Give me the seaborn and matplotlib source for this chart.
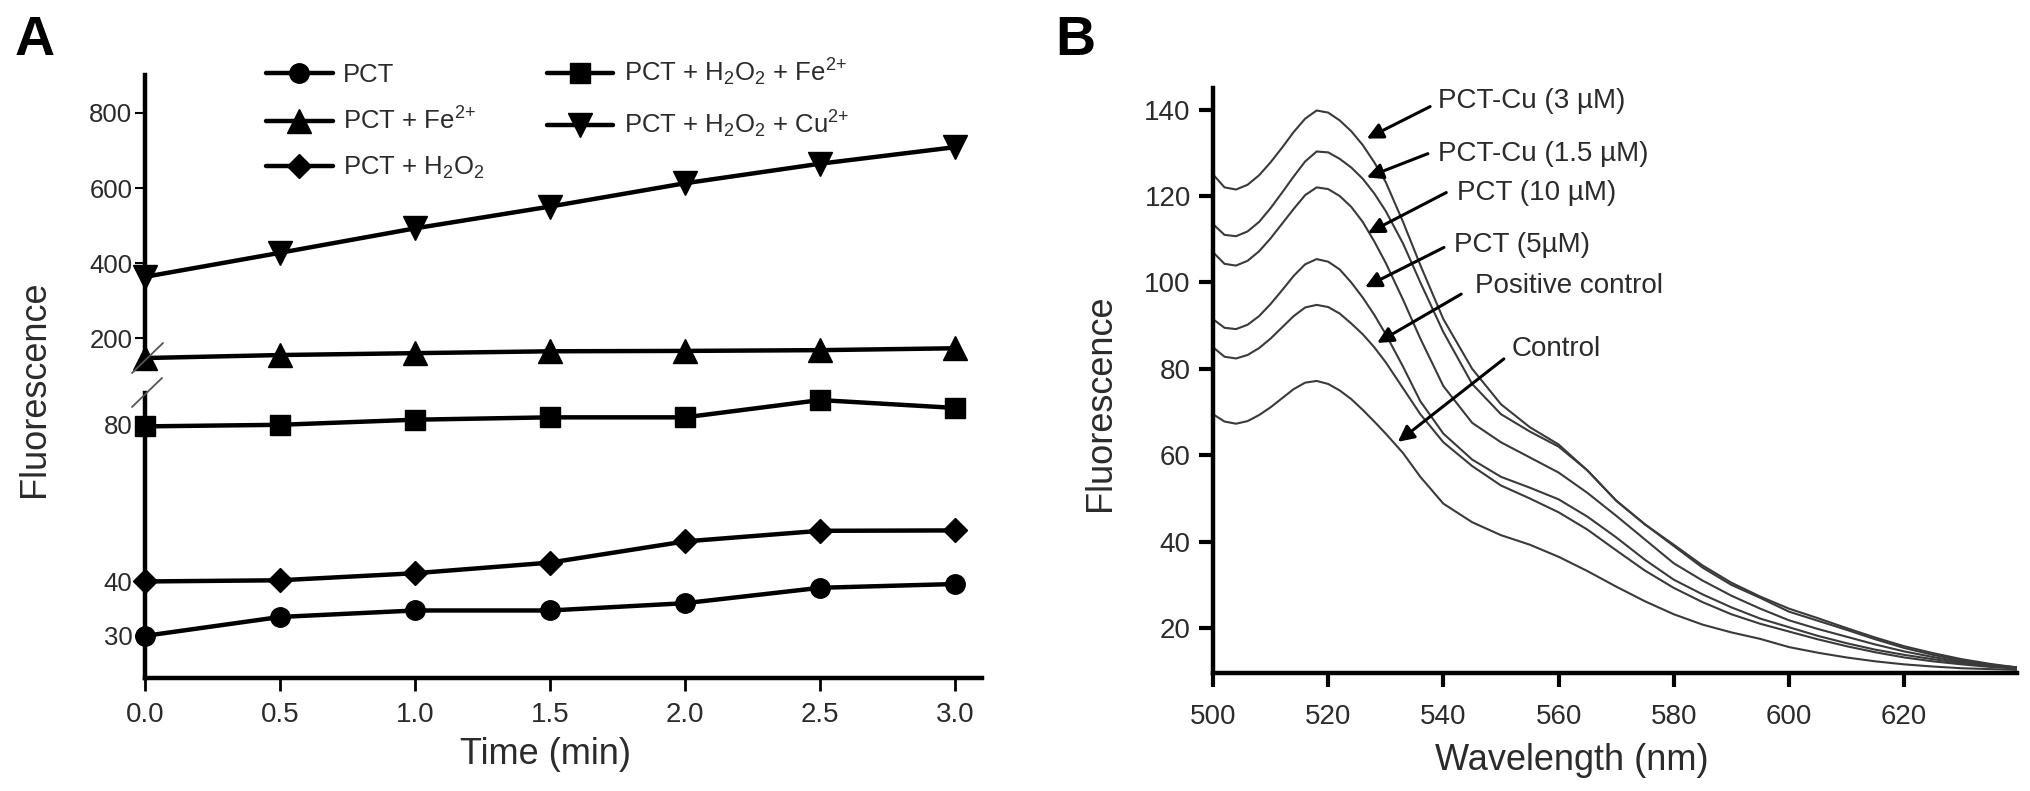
import numpy as np
import matplotlib
matplotlib.use("Agg")
import matplotlib.pyplot as plt
import seaborn as sns
from matplotlib.lines import Line2D

# ---- Panel A data (fluorescence vs time) ----
time_min = [0.0, 0.5, 1.0, 1.5, 2.0, 2.5, 3.0]
pct = [30.0, 33.5, 34.7, 34.7, 36.05, 38.9, 39.6]
pct_h2o2 = [40.1, 40.4, 42.2, 44.9, 50.3, 53.0, 53.1]
pct_h2o2_fe = [79.6, 80.0, 81.3, 81.9, 81.9, 86.3, 84.3]
pct_fe = [148, 156, 161, 166, 167, 169, 174]
pct_h2o2_cu = [364, 428, 493, 551, 613, 665, 709]

labels_a = ['PCT', 'PCT + Fe$^{2{+}}$', 'PCT + H$_2$O$_2$',
            'PCT + H$_2$O$_2$ + Fe$^{2{+}}$', 'PCT + H$_2$O$_2$ + Cu$^{2{+}}$']

# ---- Panel B data (emission spectra) ----
wavelength = [500, 502, 504, 506, 508, 510, 512, 514, 516, 518, 520, 522, 524, 526,
              528, 530, 533, 536, 540, 545, 550, 555, 560, 565, 570, 575, 580, 585,
              590, 595, 600, 605, 610, 615, 620, 625, 630, 635, 640]
cu_3 = [125.0, 122.0, 121.5, 122.6, 124.8, 127.8, 131.2, 134.8, 137.9, 139.8, 139.3,
        137.5, 135.0, 131.8, 127.8, 123.2, 114.0, 104.0, 91.5, 80.0, 71.8, 66.5, 62.5,
        56.5, 49.5, 44.0, 39.3, 34.5, 30.5, 27.3, 24.5, 22.3, 20.0, 17.8, 15.8, 14.2,
        12.8, 11.7, 10.8]
cu_15 = [113.5, 111.0, 110.7, 111.8, 114.0, 117.2, 120.8, 124.5, 128.0, 130.3, 130.1,
         128.6, 126.6, 124.0, 120.6, 116.5, 109.0, 100.0, 88.5, 76.5, 69.5, 65.5, 62.0,
         56.5, 49.5, 44.0, 39.0, 34.0, 30.0, 27.0, 23.8, 21.7, 19.6, 17.4, 15.4, 13.8,
         12.5, 11.5, 10.8]
pct_10 = [107.0, 104.3, 103.9, 105.0, 107.2, 110.2, 113.6, 117.0, 120.2, 122.0, 121.6,
          120.0, 117.5, 114.0, 109.5, 104.5, 96.0, 87.0, 76.0, 67.5, 63.0, 59.5, 56.0,
          51.3, 46.0, 40.5, 35.0, 31.0, 27.5, 24.5, 21.8, 19.8, 18.0, 16.2, 14.6, 13.3,
          12.2, 11.4, 10.9]
pct_5 = [91.5, 89.5, 89.2, 90.2, 92.2, 95.0, 98.2, 101.5, 104.2, 105.4, 104.8, 103.0,
         100.0, 96.5, 92.5, 88.0, 80.5, 72.5, 65.0, 59.0, 55.0, 52.5, 49.8, 45.8, 41.0,
         35.8, 31.2, 27.8, 24.8, 22.2, 20.2, 18.2, 16.5, 15.0, 13.8, 12.8, 11.9, 11.2,
         10.7]
positive = [85.0, 82.8, 82.4, 83.2, 84.8, 87.0, 89.6, 92.2, 94.2, 94.8, 94.3, 92.8,
            90.5, 88.0, 85.0, 81.5, 75.5, 69.5, 63.0, 57.5, 53.0, 50.0, 46.8, 42.8,
            38.0, 33.3, 29.3, 26.0, 23.2, 21.0, 19.2, 17.4, 15.8, 14.4, 13.2, 12.3,
            11.6, 11.0, 10.6]
control = [69.5, 67.8, 67.3, 67.9, 69.3, 71.1, 73.2, 75.3, 76.8, 77.2, 76.5, 75.0,
           73.0, 70.5, 67.8, 65.0, 60.5, 55.0, 48.8, 44.5, 41.5, 39.3, 36.5, 33.2,
           29.6, 26.2, 23.2, 20.8, 19.0, 17.5, 15.6, 14.3, 13.2, 12.3, 11.6, 11.1,
           10.7, 10.5, 10.3]

# label, arrow tip (nm, F), arrow tail (nm, F), text anchor (nm, F)
annotations_b = [
    ('PCT-Cu (3 µM)', (526.7, 133.3), (537.7, 140.7), (539.1, 142.1)),
    ('PCT-Cu (1.5 µM)', (526.7, 124.3), (537.3, 129.8), (539.1, 129.8)),
    ('PCT (10 µM)', (526.9, 111.4), (540.5, 120.8), (542.4, 120.6)),
    ('PCT (5µM)', (526.4, 98.9), (540.1, 108.1), (541.8, 108.6)),
    ('Positive control', (528.5, 86.0), (543.1, 97.3), (545.5, 99.1)),
    ('Control', (532.1, 63.1), (550.5, 82.3), (551.9, 84.6)),
]

sns.set_style('ticks')
plt.rcParams['font.family'] = ['Liberation Sans', 'DejaVu Sans']
plt.rcParams['mathtext.default'] = 'regular'
TXT = '#2b2b2b'

W, H = 2031, 791
fig = plt.figure(figsize=(W / 100, H / 100), dpi=100)


def box(l, t, r, b):
    return [l / W, 1 - b / H, (r - l) / W, (b - t) / H]


ax_hi = fig.add_axes(box(145, 75, 982, 365))
ax_lo = fig.add_axes(box(145, 393, 982, 678))
ax_b = fig.add_axes(box(1213, 88, 2017, 673))

# --- Panel A ---
series_a = [
    (pct, 'o', 14, ax_lo),
    (pct_fe, '^', 17, ax_hi),
    (pct_h2o2, 'D', 12.5, ax_lo),
    (pct_h2o2_fe, 's', 15, ax_lo),
    (pct_h2o2_cu, 'v', 17, ax_hi),
]
handles = []
for vals, mk, ms, ax in series_a:
    sns.lineplot(x=time_min, y=vals, ax=ax, color='black', lw=3.2, marker=mk,
                 markersize=ms, markeredgecolor='black', markeredgewidth=1,
                 clip_on=False, zorder=4)
    handles.append(Line2D([], [], color='black', lw=3.2, marker=mk, markersize=ms,
                          markeredgecolor='black'))


# lower segment of the broken axis is not linear in the original figure
def lo_fwd(v):
    v = np.asarray(v, dtype=float)
    return np.where(v < 40, (v - 40) * 5.4, (v - 40) * 3.925)


def lo_inv(p):
    p = np.asarray(p, dtype=float)
    return np.where(p < 0, p / 5.4 + 40, p / 3.925 + 40)


ax_lo.set_yscale('function', functions=(lo_fwd, lo_inv))
ax_lo.set_ylim(22.2, 88.1)
ax_lo.set_yticks([30, 40, 80])
ax_lo.set_yticklabels(['30', '40', '80'])
ax_hi.set_ylim(129.5, 901)
ax_hi.set_yticks([200, 400, 600, 800])

for ax in (ax_hi, ax_lo):
    ax.set_xlim(0, 3.1)
    ax.set_xlabel('')
    ax.set_ylabel('')
    for s in ('top', 'right'):
        ax.spines[s].set_visible(False)
    ax.spines['left'].set_linewidth(3.2)
    ax.spines['left'].set_color('black')
    ax.tick_params(axis='y', direction='out', length=7, width=1.5, pad=2,
                   labelsize=18.5, labelcolor=TXT, color='black')
ax_hi.spines['bottom'].set_visible(False)
ax_hi.set_xticks([])
ax_lo.spines['bottom'].set_linewidth(3.2)
ax_lo.spines['bottom'].set_color('black')
ax_lo.set_xticks(time_min)
ax_lo.set_xticklabels([f'{t:.1f}' for t in time_min])
ax_lo.tick_params(axis='x', direction='out', length=9, width=2, pad=8,
                  labelsize=20, labelcolor=TXT, color='black')

# break marks
for (x1, y1, x2, y2) in [(132, 373, 163, 343), (132, 407, 162, 378)]:
    fig.add_artist(Line2D([x1 / W, x2 / W], [1 - y1 / H, 1 - y2 / H],
                          transform=fig.transFigure, color='#555555', lw=1.3))

fig.legend(handles, labels_a, loc='upper left', bbox_to_anchor=(266 / W, 1 - 57 / H),
           bbox_transform=fig.transFigure, ncol=2, frameon=False, fontsize=18.5,
           handlelength=2.6, handletextpad=0.4, columnspacing=2.4,
           labelspacing=0.8, borderpad=0, borderaxespad=0, labelcolor=TXT)

fig.text(35 / W, 1 - 389 / H, 'Fluorescence', rotation=90, ha='center', va='center',
         fontsize=26, color=TXT)
fig.text(546 / W, 1 - 754 / H, 'Time (min)', ha='center', va='center',
         fontsize=26, color=TXT)
fig.text(15 / W, 1 - 55 / H, 'A', fontsize=40, fontweight='bold', ha='left',
         va='baseline', color='black')

# --- Panel B ---
for vals in [cu_3, cu_15, pct_10, pct_5, positive, control]:
    sns.lineplot(x=wavelength, y=vals, ax=ax_b, color='#3a3a3a', lw=1.5)

for label, tip, tail, anchor in annotations_b:
    ax_b.annotate('', xy=tip, xytext=tail,
                  arrowprops=dict(arrowstyle='-|>', color='black', lw=2.2,
                                  mutation_scale=24, shrinkA=0, shrinkB=0))
    ax_b.text(anchor[0], anchor[1], label, ha='left', va='center', fontsize=20,
              color=TXT)

ax_b.set_xlim(500, 639.6)
ax_b.set_ylim(9.6, 145)
ax_b.set_xticks([500, 520, 540, 560, 580, 600, 620])
ax_b.set_yticks([20, 40, 60, 80, 100, 120, 140])
ax_b.set_xlabel('')
ax_b.set_ylabel('')
for s in ('top', 'right'):
    ax_b.spines[s].set_visible(False)
for s in ('left', 'bottom'):
    ax_b.spines[s].set_linewidth(3.2)
    ax_b.spines[s].set_color('black')
ax_b.tick_params(axis='both', direction='out', length=10, width=3, labelsize=20,
                 labelcolor=TXT, color='black')
ax_b.tick_params(axis='x', pad=12)
ax_b.tick_params(axis='y', pad=6)

fig.text(1101 / W, 1 - 403 / H, 'Fluorescence', rotation=90, ha='center', va='center',
         fontsize=26, color=TXT)
fig.text(1572 / W, 1 - 761 / H, 'Wavelength (nm)', ha='center', va='center',
         fontsize=26, color=TXT)
fig.text(1055 / W, 1 - 55 / H, 'B', fontsize=40, fontweight='bold', ha='left',
         va='baseline', color='black')

fig.savefig('out.png', dpi=100)
